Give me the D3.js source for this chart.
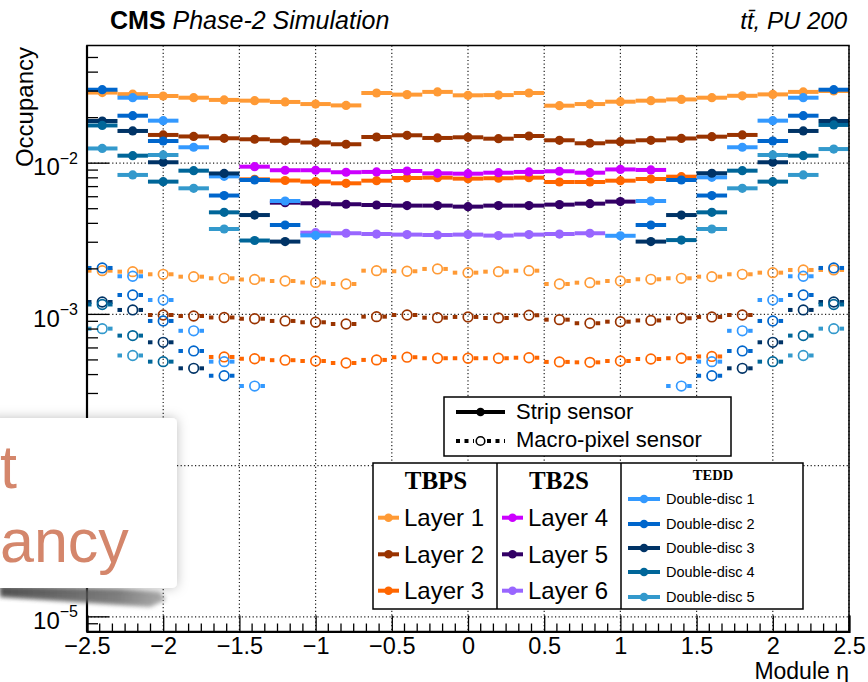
<!DOCTYPE html>
<html>
<head>
<meta charset="utf-8">
<script src="https://cdn.jsdelivr.net/npm/d3@7"></script>
<style>
  body { margin: 0; background: #fff; }
  svg { display: block; }
</style>
</head>
<body>
<svg id="chart" width="868" height="682"></svg>
<script>
// ---------------- data: occupancy per module-eta bin ----------------
const binWidth = 0.2;

// barrel strip layers (TBPS 1-3, TB2S 4-6)
const stripL1Eta = [-2.4,-2.2,-2.0,-1.8,-1.6,-1.4,-1.2,-1.0,-0.8,-0.6,-0.4,-0.2,0,0.2,0.4,0.6,0.8,1.0,1.2,1.4,1.6,1.8,2.0,2.2,2.4];
const stripL1 = [0.0293,0.0286,0.0278,0.0271,0.0262,0.0259,0.0254,0.0246,0.0241,0.0291,0.0284,0.0296,0.0281,0.0282,0.0291,0.0240,0.0246,0.0255,0.0259,0.0264,0.0271,0.0279,0.0285,0.0296,0.0300];
const stripL2Eta = [-2.0,-1.8,-1.6,-1.4,-1.2,-1.0,-0.8,-0.6,-0.4,-0.2,0,0.2,0.4,0.6,0.8,1.0,1.2,1.4,1.6,1.8];
const stripL2 = [0.01537,0.01502,0.01461,0.01439,0.01406,0.01370,0.01334,0.01490,0.01529,0.01468,0.01483,0.01452,0.01513,0.01417,0.01354,0.01387,0.01417,0.01457,0.01497,0.01537];
const stripL3Eta = [-1.4,-1.2,-1.0,-0.8,-0.6,-0.4,-0.2,0,0.2,0.4,0.6,0.8,1.0,1.2,1.4];
const stripL3 = [0.00782,0.00768,0.00755,0.00736,0.00766,0.00798,0.00802,0.00790,0.00795,0.00802,0.00751,0.00751,0.00766,0.00786,0.00814];
const stripL4Eta = [-1.4,-1.2,-1.0,-0.8,-0.6,-0.4,-0.2,0,0.2,0.4,0.6,0.8,1.0,1.2];
const stripL4 = [0.00948,0.00898,0.00898,0.00871,0.00875,0.00888,0.00857,0.00852,0.00865,0.00875,0.00884,0.00865,0.00909,0.00902];
const stripL5Eta = [-1.2,-1.0,-0.8,-0.6,-0.4,-0.2,0,0.2,0.4,0.6,0.8,1.0];
const stripL5 = [0.00548,0.00543,0.00535,0.00529,0.00524,0.00524,0.00516,0.00524,0.00524,0.00532,0.00540,0.00557];
const stripL6Eta = [-1.0,-0.8,-0.6,-0.4,-0.2,0,0.2,0.4,0.6,0.8];
const stripL6 = [0.00347,0.00344,0.00340,0.00337,0.00335,0.00337,0.00332,0.00337,0.00340,0.00344];

// endcap strip double-discs (TEDD 1-5)
const stripD1Eta = [-2.2,-2.0,-1.8,-1.6,-1.2,-1.0,1.0,1.2,1.6,1.8,2.0,2.2];
const stripD1 = [0.0271,0.0191,0.01274,0.00818,0.00562,0.00333,0.00331,0.00562,0.00806,0.01274,0.0191,0.0271];
const stripD2Eta = [-2.4,-2.2,-2.0,-1.6,-1.4,-1.2,1.2,1.4,1.6,2.0,2.2,2.4];
const stripD2 = [0.0306,0.0206,0.01402,0.00611,0.00774,0.00390,0.00390,0.00774,0.00611,0.01402,0.0206,0.0306];
const stripD3Eta = [-2.4,-2.2,-2.0,-1.6,-1.4,-1.2,1.2,1.4,1.6,2.0,2.2,2.4];
const stripD3 = [0.01901,0.01633,0.01014,0.00855,0.00454,0.00303,0.00303,0.00454,0.00858,0.01014,0.01633,0.01901];
const stripD4Eta = [-2.4,-2.2,-2.0,-1.8,-1.6,-1.4,1.4,1.6,1.8,2.0,2.2,2.4];
const stripD4 = [0.01776,0.01121,0.00755,0.00892,0.00473,0.00308,0.00310,0.00473,0.00892,0.00755,0.01121,0.01790];
const stripD5Eta = [-2.4,-2.2,-2.0,-1.8,-1.6,1.6,1.8,2.0,2.2,2.4];
const stripD5 = [0.01251,0.00836,0.01133,0.00682,0.00367,0.00367,0.00682,0.01133,0.00836,0.01240];

// barrel macro-pixel layers (TBPS 1-3)
const psL1 = [0.001946,0.001917,0.001842,0.001776,0.001733,0.001702,0.001663,0.001626,0.001589,0.001946,0.001929,0.001998,0.001888,0.001917,0.001946,0.001589,0.001621,0.001663,0.001707,0.001733,0.001776,0.001842,0.001888,0.001967,0.001967];
const psL2 = [0.000991,0.000976,0.000954,0.000936,0.000905,0.000887,0.000864,0.000966,0.000991,0.000951,0.000962,0.000947,0.000987,0.000923,0.000874,0.000895,0.000912,0.000943,0.000962,0.000991];
const psL3Eta = [-1.6,-1.4,-1.2,-1.0,-0.8,-0.6,-0.4,-0.2,0,0.2,0.4,0.6,0.8,1.0,1.2,1.4,1.6];
const psL3 = [0.000523,0.000509,0.000498,0.000492,0.000477,0.000500,0.000521,0.000513,0.000513,0.000513,0.000517,0.000485,0.000482,0.000492,0.000507,0.000513,0.000527];

// endcap macro-pixel double-discs
const psD1Eta = [-2.2,-2.0,-1.8,-1.6,-1.4,1.4,1.6,1.8,2.0,2.2];
const psD1 = [0.001787,0.001245,0.000779,0.000487,0.000336,0.000336,0.000487,0.000779,0.001245,0.001787];
const psD2Eta = [-2.4,-2.2,-2.0,-1.8,-1.6,1.6,1.8,2.0,2.2,2.4];
const psD2 = [0.002028,0.001344,0.000905,0.000573,0.000393,0.000393,0.000573,0.000905,0.001344,0.002028];
const psD3Eta = [-2.4,-2.2,-2.0,-1.8,1.8,2.0,2.2,2.4];
const psD3 = [0.001208,0.001070,0.000654,0.000440,0.000440,0.000654,0.001070,0.001208];
const psD4Eta = [-2.4,-2.2,-2.0,2.0,2.2,2.4];
const psD4 = [0.001163,0.000724,0.000487,0.000487,0.000724,0.001163];
const psD5Eta = [-2.4,-2.2,2.2,2.4];
const psD5 = [0.000805,0.000535,0.000535,0.000805];

// axis ticks
const xMajorTicks = [-2.5,-2,-1.5,-1,-0.5,0,0.5,1,1.5,2,2.5];
const yDecades = [1e-5,1e-4,1e-3,1e-2];
const yDecadeLabels = ["\u22125","\u22124","\u22123","\u22122"];

// colours
const colL1 = "#ff9a35", colL2 = "#993300", colL3 = "#ff6600";
const colL4 = "#cc00ff", colL5 = "#330066", colL6 = "#9966ff";
const colD1 = "#3399ff", colD2 = "#0066cc", colD3 = "#003366", colD4 = "#006699", colD5 = "#3399cc";

// ---------------- drawing ----------------
const svg = d3.select("#chart");
const FONT = "'Liberation Sans', Arial, Helvetica, sans-serif";
const SERIF = "'Liberation Serif', 'Times New Roman', serif";

const x = d3.scaleLinear().domain([-2.5, 2.5]).range([87, 849]);
const y = d3.scaleLog().domain([8e-6, 0.06]).range([631.5, 45.5]);
const [x0, x1] = x.range();
const [yb, yt] = y.range();

const defs = svg.append("defs");
const shadow = defs.append("filter").attr("id", "cardShadow")
  .attr("x", "-20%").attr("y", "-30%").attr("width", "140%").attr("height", "160%");
shadow.append("feDropShadow").attr("dx", 0).attr("dy", 0).attr("stdDeviation", 6)
  .attr("flood-color", "#000").attr("flood-opacity", 0.25);
const smearBlur = defs.append("filter").attr("id", "smearBlur")
  .attr("x", "-10%").attr("y", "-50%").attr("width", "120%").attr("height", "200%");
smearBlur.append("feGaussianBlur").attr("stdDeviation", 2.2);
const smearGrad = defs.append("linearGradient").attr("id", "smearGrad")
  .attr("x1", "0%").attr("x2", "100%");
smearGrad.append("stop").attr("offset", "0%").attr("stop-color", "#3a3a3a");
smearGrad.append("stop").attr("offset", "70%").attr("stop-color", "#6a6a6a");
smearGrad.append("stop").attr("offset", "100%").attr("stop-color", "#a0a0a0");

// grid
const grid = svg.append("g");
grid.selectAll("line.vg").data(xMajorTicks).join("line")
  .attr("x1", d => x(d)).attr("x2", d => x(d)).attr("y1", yt).attr("y2", yb)
  .attr("stroke", "#222").attr("stroke-width", 1.2).attr("stroke-dasharray", "1.2,2.4");
grid.selectAll("line.hg").data(yDecades).join("line")
  .attr("x1", x0).attr("x2", x1).attr("y1", d => y(d)).attr("y2", d => y(d))
  .attr("stroke", "#222").attr("stroke-width", 1.2).attr("stroke-dasharray", "1.2,2.4");

const plot = svg.append("g");

function drawStrip(eta, vals, color) {
  const pts = eta.map((e, i) => ({ e, v: vals[i] }));
  const g = plot.append("g");
  g.selectAll("line").data(pts).join("line")
    .attr("x1", d => x(d.e - binWidth / 2)).attr("x2", d => x(d.e + binWidth / 2))
    .attr("y1", d => y(d.v)).attr("y2", d => y(d.v))
    .attr("stroke", color).attr("stroke-width", 4);
  g.selectAll("circle").data(pts).join("circle")
    .attr("cx", d => x(d.e)).attr("cy", d => y(d.v)).attr("r", 4.6)
    .attr("fill", color);
}

function drawPixel(eta, vals, color) {
  const pts = eta.map((e, i) => ({ e, v: vals[i] }));
  const g = plot.append("g");
  const r = 4.8;
  g.selectAll("line.l").data(pts).join("line")
    .attr("x1", d => x(d.e - binWidth / 2)).attr("x2", d => x(d.e) - r - 1)
    .attr("y1", d => y(d.v)).attr("y2", d => y(d.v))
    .attr("stroke", color).attr("stroke-width", 4).attr("stroke-dasharray", "4.5,5");
  g.selectAll("line.r").data(pts).join("line")
    .attr("x1", d => x(d.e) + r + 1).attr("x2", d => x(d.e + binWidth / 2))
    .attr("y1", d => y(d.v)).attr("y2", d => y(d.v))
    .attr("stroke", color).attr("stroke-width", 4).attr("stroke-dasharray", "4.5,5");
  g.selectAll("circle").data(pts).join("circle")
    .attr("cx", d => x(d.e)).attr("cy", d => y(d.v)).attr("r", r)
    .attr("fill", "none").attr("stroke", color).attr("stroke-width", 1.7);
}

// macro-pixel sensors
drawPixel(stripL1Eta, psL1, colL1);
drawPixel(stripL2Eta, psL2, colL2);
drawPixel(psL3Eta, psL3, colL3);
drawPixel(psD1Eta, psD1, colD1);
drawPixel(psD2Eta, psD2, colD2);
drawPixel(psD3Eta, psD3, colD3);
drawPixel(psD4Eta, psD4, colD4);
drawPixel(psD5Eta, psD5, colD5);

// strip sensors
drawStrip(stripL1Eta, stripL1, colL1);
drawStrip(stripL2Eta, stripL2, colL2);
drawStrip(stripL3Eta, stripL3, colL3);
drawStrip(stripL4Eta, stripL4, colL4);
drawStrip(stripL5Eta, stripL5, colL5);
drawStrip(stripL6Eta, stripL6, colL6);
drawStrip(stripD1Eta, stripD1, colD1);
drawStrip(stripD2Eta, stripD2, colD2);
drawStrip(stripD3Eta, stripD3, colD3);
drawStrip(stripD4Eta, stripD4, colD4);
drawStrip(stripD5Eta, stripD5, colD5);

// frame
svg.append("rect").attr("x", x0).attr("y", yt).attr("width", x1 - x0).attr("height", yb - yt)
  .attr("fill", "none").attr("stroke", "#000").attr("stroke-width", 1.5);

// x axis
const xMinor = d3.range(-2.5, 2.5001, 0.5 / 6).filter(v => Math.abs(v * 2 - Math.round(v * 2)) > 1e-6);
const xAxis = d3.axisBottom(x).tickValues(xMajorTicks).tickSize(-16).tickPadding(6)
  .tickFormat(d3.format(""));
const gx = svg.append("g").attr("transform", `translate(0,${yb})`).call(xAxis);
gx.select(".domain").attr("stroke-width", 2.2).attr("stroke", "#000");
gx.selectAll(".tick line").attr("stroke", "#000").attr("stroke-width", 1.3);
gx.selectAll(".tick text").attr("font-family", FONT).attr("font-size", 23.5).attr("fill", "#000");
svg.append("g").selectAll("line").data(xMinor).join("line")
  .attr("x1", d => x(d)).attr("x2", d => x(d)).attr("y1", yb).attr("y2", yb - 8)
  .attr("stroke", "#000").attr("stroke-width", 1.3);

// y axis
const yMinor = [];
for (let p = -6; p <= -2; p++) for (let m = 2; m <= 9; m++) {
  const v = m * Math.pow(10, p);
  if (v > 8e-6 && v < 0.06) yMinor.push(v);
}
const gy = svg.append("g");
gy.append("line").attr("x1", x0).attr("x2", x0).attr("y1", yt).attr("y2", yb)
  .attr("stroke", "#000").attr("stroke-width", 2.2);
gy.selectAll("line.mn").data(yMinor).join("line")
  .attr("x1", x0).attr("x2", x0 + 11).attr("y1", d => y(d)).attr("y2", d => y(d))
  .attr("stroke", "#000").attr("stroke-width", 1.3);
gy.selectAll("line.mj").data(yDecades).join("line")
  .attr("x1", x0).attr("x2", x0 + 22).attr("y1", d => y(d)).attr("y2", d => y(d))
  .attr("stroke", "#000").attr("stroke-width", 1.3);
const yLab = gy.selectAll("text").data(yDecades).join("text")
  .attr("x", 78).attr("y", d => y(d) + 12.3)
  .attr("text-anchor", "end").attr("font-family", FONT).attr("fill", "#000");
yLab.append("tspan").attr("font-size", 24).text("10");
yLab.append("tspan").attr("font-size", 16).attr("dy", -11.7).text((d, i) => yDecadeLabels[i]);

// axis titles
svg.append("text").attr("transform", "translate(33,47) rotate(-90)")
  .attr("text-anchor", "end").attr("font-family", FONT).attr("font-size", 24).text("Occupancy");
svg.append("text").attr("x", 849).attr("y", 678.5).attr("text-anchor", "end")
  .attr("font-family", FONT).attr("font-size", 23).text("Module \u03b7");

// header
const head = svg.append("text").attr("x", 110).attr("y", 29).attr("font-family", FONT).attr("font-size", 25);
head.append("tspan").attr("font-weight", "bold").text("CMS");
head.append("tspan").attr("font-style", "italic").text(" Phase-2 Simulation");
svg.append("text").attr("x", 847).attr("y", 29).attr("text-anchor", "end")
  .attr("font-family", FONT).attr("font-size", 24).attr("font-style", "italic")
  .text("tt\u0304, PU 200");

// legend: sensor type
const lg1 = svg.append("g");
lg1.append("rect").attr("x", 444).attr("y", 397).attr("width", 287).attr("height", 59)
  .attr("fill", "#fff").attr("stroke", "#000").attr("stroke-width", 1.5);
lg1.append("line").attr("x1", 456).attr("x2", 505).attr("y1", 412).attr("y2", 412)
  .attr("stroke", "#000").attr("stroke-width", 4);
lg1.append("circle").attr("cx", 480.5).attr("cy", 412).attr("r", 4.3).attr("fill", "#000");
lg1.append("line").attr("x1", 456).attr("x2", 474).attr("y1", 441).attr("y2", 441)
  .attr("stroke", "#000").attr("stroke-width", 4).attr("stroke-dasharray", "4,4.5");
lg1.append("line").attr("x1", 487).attr("x2", 505).attr("y1", 441).attr("y2", 441)
  .attr("stroke", "#000").attr("stroke-width", 4).attr("stroke-dasharray", "4,4.5");
lg1.append("circle").attr("cx", 480.5).attr("cy", 441).attr("r", 4.3)
  .attr("fill", "none").attr("stroke", "#000").attr("stroke-width", 1.6);
lg1.append("text").attr("x", 516).attr("y", 418.5).attr("font-family", FONT).attr("font-size", 22).text("Strip sensor");
lg1.append("text").attr("x", 516).attr("y", 447).attr("font-family", FONT).attr("font-size", 22).text("Macro-pixel sensor");

// legend: layers and discs
const lg2 = svg.append("g");
lg2.append("rect").attr("x", 373).attr("y", 463).attr("width", 430).attr("height", 146)
  .attr("fill", "#fff").attr("stroke", "#000").attr("stroke-width", 1.5);
[497, 621].forEach(xx => lg2.append("line").attr("x1", xx).attr("x2", xx).attr("y1", 463).attr("y2", 609)
  .attr("stroke", "#000").attr("stroke-width", 1.5));

const colHeads = [
  { t: "TBPS", x: 436, y: 488.5, s: 25 },
  { t: "TB2S", x: 559, y: 488.5, s: 25 },
  { t: "TEDD", x: 713, y: 480, s: 14.5 }
];
lg2.selectAll("text.hd").data(colHeads).join("text")
  .attr("x", d => d.x).attr("y", d => d.y).attr("text-anchor", "middle")
  .attr("font-family", SERIF).attr("font-weight", "bold").attr("font-size", d => d.s).text(d => d.t);

const barrelEntries = [
  { t: "Layer 1", c: colL1, col: 0, row: 0 }, { t: "Layer 2", c: colL2, col: 0, row: 1 }, { t: "Layer 3", c: colL3, col: 0, row: 2 },
  { t: "Layer 4", c: colL4, col: 1, row: 0 }, { t: "Layer 5", c: colL5, col: 1, row: 1 }, { t: "Layer 6", c: colL6, col: 1, row: 2 }
];
const rowY = [517.7, 554.3, 590.7];
const colX = [378, 502];
const be = lg2.selectAll("g.be").data(barrelEntries).join("g");
be.append("line").attr("x1", d => colX[d.col]).attr("x2", d => colX[d.col] + 21)
  .attr("y1", d => rowY[d.row]).attr("y2", d => rowY[d.row])
  .attr("stroke", d => d.c).attr("stroke-width", 4);
be.append("circle").attr("cx", d => colX[d.col] + 10.5).attr("cy", d => rowY[d.row]).attr("r", 4.3)
  .attr("fill", d => d.c);
be.append("text").attr("x", d => colX[d.col] + 26).attr("y", d => rowY[d.row] + 8.3)
  .attr("font-family", FONT).attr("font-size", 24).text(d => d.t);

const discEntries = [
  { t: "Double-disc 1", c: colD1 }, { t: "Double-disc 2", c: colD2 }, { t: "Double-disc 3", c: colD3 },
  { t: "Double-disc 4", c: colD4 }, { t: "Double-disc 5", c: colD5 }
];
const discY = [499, 524, 548, 572, 597];
const de = lg2.selectAll("g.de").data(discEntries).join("g");
de.append("line").attr("x1", 628).attr("x2", 660).attr("y1", (d, i) => discY[i]).attr("y2", (d, i) => discY[i])
  .attr("stroke", d => d.c).attr("stroke-width", 4);
de.append("circle").attr("cx", 644).attr("cy", (d, i) => discY[i]).attr("r", 4.3).attr("fill", d => d.c);
de.append("text").attr("x", 666).attr("y", (d, i) => discY[i] + 5.2)
  .attr("font-family", FONT).attr("font-size", 14.5).text(d => d.t);

// pasted slide card lying over the lower-left corner
const card = svg.append("g");
card.append("path")
  .attr("d", "M0,586 L120,589 L160,592 L166,600 L150,607 L60,601 L0,597 Z")
  .attr("fill", "url(#smearGrad)").attr("filter", "url(#smearBlur)").attr("opacity", 0.85);
card.append("rect").attr("x", -12).attr("y", 418).attr("width", 189).attr("height", 170).attr("rx", 5)
  .attr("fill", "#fff").attr("filter", "url(#cardShadow)");
card.append("text").attr("x", 0).attr("y", 488).attr("font-family", FONT).attr("font-size", 61)
  .attr("fill", "#d4866b").text("t");
card.append("text").attr("x", 0).attr("y", 562).attr("font-family", FONT).attr("font-size", 61)
  .attr("fill", "#d4866b").text("ancy");
</script>
</body>
</html>
